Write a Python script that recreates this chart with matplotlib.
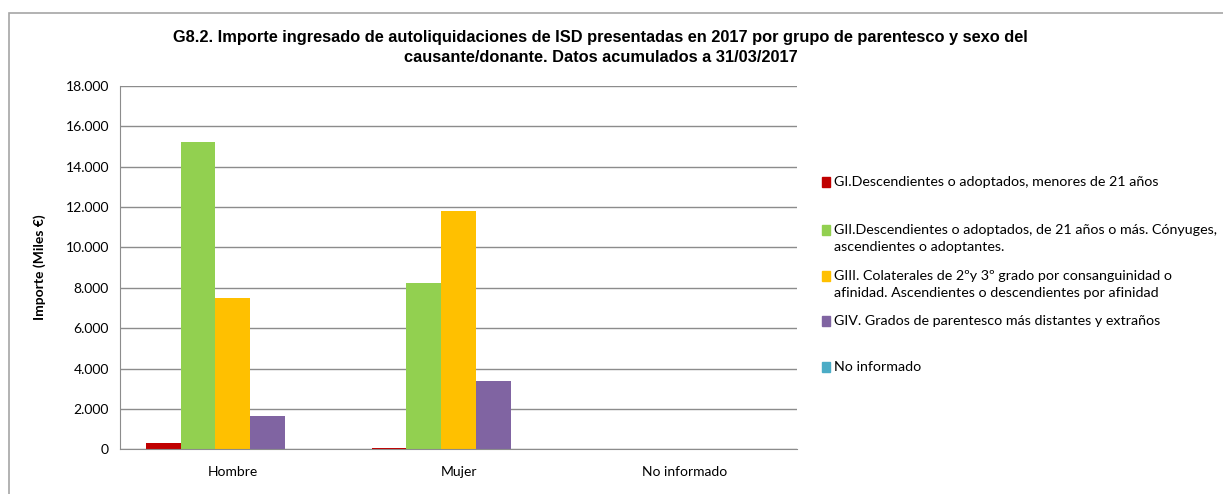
import numpy as np
import matplotlib.pyplot as plt
from matplotlib.patches import Rectangle

categorias = ["Hombre", "Mujer", "No informado"]
series = [
    "GI.Descendientes o adoptados, menores de 21 años",
    "GII.Descendientes o adoptados, de 21 años o más. Cónyuges,\nascendientes o adoptantes.",
    "GIII. Colaterales de 2ºy 3º grado por consanguinidad o\nafinidad. Ascendientes o descendientes por afinidad",
    "GIV. Grados de parentesco más distantes y extraños",
    "No informado",
]
gi = [297, 65, 0]
gii = [15230, 8240, 0]
giii = [7480, 11820, 15]
giv = [1650, 3385, 0]
no_inf = [0, 0, 0]
valores = [gi, gii, giii, giv, no_inf]
colores = ["#C00000", "#92D050", "#FFC000", "#8064A2", "#4BACC6"]

plt.rcParams['font.family'] = ['Lato', 'DejaVu Sans']

fig = plt.figure(figsize=(12.23, 4.94), dpi=100)
ax = fig.add_axes([120 / 1223, 1 - 449.3 / 494, (797 - 120) / 1223, 363.3 / 494])

x = np.arange(len(categorias))
w = 0.154
for i, (vals, col) in enumerate(zip(valores, colores)):
    ax.bar(x + (i - 2) * w, vals, width=w, color=col, label=series[i])

ax.set_xlim(-0.5, 2.5)
ax.set_ylim(0, 18000)
ax.set_yticks(np.arange(0, 18001, 2000))
ax.set_yticklabels([f"{v:,}".replace(",", ".") for v in range(0, 18001, 2000)], fontsize=10)
ax.set_xticks(x)
ax.set_xticklabels(categorias, fontsize=10)
ax.tick_params(length=0, pad=8)
ax.tick_params(axis='x', pad=12)
ax.yaxis.grid(True, color="#8c8c8c", linewidth=1)
ax.set_axisbelow(True)
for s in ["top", "right"]:
    ax.spines[s].set_visible(False)
ax.spines["left"].set_color("#8c8c8c")
ax.spines["bottom"].set_color("#8c8c8c")
ax.set_ylabel("Importe (Miles €)", fontsize=10, fontweight="bold", labelpad=14)

fig.suptitle("G8.2. Importe ingresado de autoliquidaciones de ISD presentadas en 2017 por grupo de parentesco y sexo del\ncausante/donante. Datos acumulados a 31/03/2017",
             x=0.491, y=0.94, fontsize=11.8, fontweight="bold",
             family=["Liberation Sans", "DejaVu Sans"], linespacing=1.45)

# legend entries placed manually (y of first line)
ys = [182, 230, 276, 321, 367]
for lab, col, yy in zip(series, colores, ys):
    fig.patches.append(Rectangle((822 / 1223, 1 - (yy + 5) / 494), 8 / 1223, 10 / 494,
                                 transform=fig.transFigure, color=col))
    fig.text(834 / 1223, 1 - (yy - 6) / 494, lab, fontsize=10.3, va="top", ha="left", linespacing=1.5)

fig.patches.append(Rectangle((9 / 1223, -0.1), 1.2, 1 - 13 / 494 + 0.1, transform=fig.transFigure,
                             fill=False, edgecolor="#a6a6a6", linewidth=1.2))

fig.savefig("out.png", dpi=100)
